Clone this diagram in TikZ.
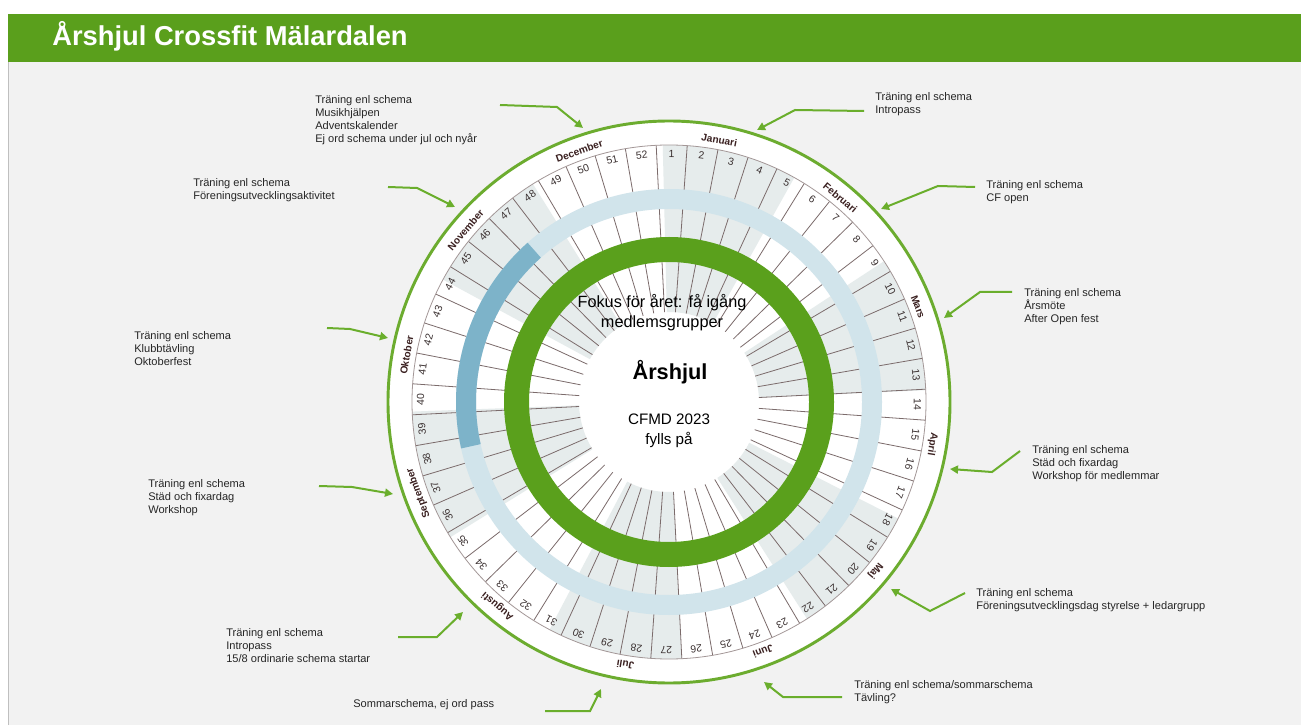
\documentclass[tikz,border=0pt]{standalone}
\usepackage{fontspec}
\setmainfont{Liberation Sans}
\usetikzlibrary{arrows.meta}

\definecolor{slidegray}{HTML}{F2F2F2}
\definecolor{hdrgreen}{HTML}{5A9F1C}
\definecolor{rimgreen}{HTML}{6CAC2F}
\definecolor{arrowgreen}{HTML}{6AAE2C}
\definecolor{ringgreen}{HTML}{5AA01C}
\definecolor{ringblue}{HTML}{D1E4EB}
\definecolor{darkblue}{HTML}{7DB3C9}
\definecolor{cellgray}{HTML}{E6ECEC}
\definecolor{spokecol}{HTML}{7B6B6B}
\definecolor{weektext}{HTML}{3A3030}
\definecolor{monthtext}{HTML}{3A2020}
\definecolor{notetext}{HTML}{262626}

\begin{document}
\begin{tikzpicture}[x=0.75pt,y=0.75pt,
  note/.style={anchor=north west,align=left,inner sep=0pt,font=\fontsize{8.3}{9.75}\selectfont,text=notetext},
  pointer/.style={draw=arrowgreen,line width=1.5pt,-{Triangle[length=6pt,width=6pt]}},
  weeknum/.style={font=\fontsize{7.8}{9}\selectfont,text=weektext,inner sep=0pt},
  monthname/.style={font=\bfseries\fontsize{7.6}{9}\selectfont,text=monthtext,inner sep=0pt},
  spoke/.style={draw=spokecol,line width=0.6pt}]

\useasboundingbox (0,0) rectangle (1301,725);
\fill[white] (0,0) rectangle (1301,725);
\fill[slidegray] (8,0) rectangle (1301,663);
\draw[black!25,line width=0.6pt] (8,0) -- (8,711);
\fill[hdrgreen] (8,663) rectangle (1301,711);
\node[anchor=base west,inner sep=0pt,text=white,font=\bfseries\fontsize{20.5}{24}\selectfont] (title) at (52,679) {Årshjul Crossfit Mälardalen};

% wheel
\begin{scope}[shift={(669,323)}]
  \fill[white] (0,0) circle[radius=281];
  \foreach \name/\s/\e [count=\i] in {Januari/0/31,Februari/31/59,Mars/59/90,April/90/120,Maj/120/151,Juni/151/181,Juli/181/212,Augusti/212/243,September/243/273,Oktober/273/304,November/304/334,December/334/365}{
    \pgfmathsetmacro\sa{91.4-\s*0.98630137}
    \pgfmathsetmacro\ea{91.4-\e*0.98630137}
    \ifodd\i\relax
      \fill[cellgray] (\sa:90) arc[start angle=\sa,end angle=\ea,radius=90] -- (\ea:257) arc[start angle=\ea,end angle=\sa,radius=257] -- cycle;
    \fi
    \pgfmathsetmacro\ma{(\sa+\ea)/2+3}
    \node[monthname,rotate=\ma-90] (m\i) at (\ma:266.5) {\name};
  }
  \foreach \k in {0,...,51}{
    \pgfmathsetmacro\b{92.86-\k*6.9230769}
    \draw[spoke] (\b:90) -- (\b:257);
  }
  \draw[spokecol!70,line width=0.6pt] (0,0) circle[radius=257];
  \fill[ringblue,even odd rule] (0,0) circle[radius=213] circle[radius=193];
  \fill[darkblue] (131.6:193) arc[start angle=131.6,end angle=192.6,radius=193] -- (192.6:213) arc[start angle=192.6,end angle=131.6,radius=213] -- cycle;
  \fill[ringgreen,even odd rule] (0,0) circle[radius=165] circle[radius=140];
  \draw[rimgreen,line width=2.2pt] (0,0) circle[radius=281];
  \foreach \k in {1,...,52}{
    \pgfmathsetmacro\a{89.4-(\k-1)*6.9230769}
    \node[weeknum,rotate=\a-90] (w\k) at (\a:248.5) {\k};
  }
\end{scope}

\node[font=\fontsize{12.2}{15}\selectfont,align=center,text=black] (focus) at (662,412) {Fokus för året: få igång\\medlemsgrupper};
\node[anchor=base,inner sep=0pt,font=\bfseries\fontsize{16.3}{19}\selectfont,text=black] (hub) at (670,345) {Årshjul};
\node[font=\fontsize{11.4}{15}\selectfont,align=center,text=black] (year) at (669,294) {CFMD 2023\\fylls på};

% notes
\node[note] (n1) at (315,630) {Träning enl schema\\Musikhjälpen\\Adventskalender\\Ej ord schema under jul och nyår};
\node[note] (n2) at (193,547) {Träning enl schema\\Föreningsutvecklingsaktivitet};
\node[note] (n3) at (875,633) {Träning enl schema\\Intropass};
\node[note] (n4) at (986,545) {Träning enl schema\\CF open};
\node[note] (n5) at (1024,437) {Träning enl schema\\Årsmöte\\After Open fest};
\node[note] (n6) at (1032,280) {Träning enl schema\\Städ och fixardag\\Workshop för medlemmar};
\node[note] (n7) at (976,137) {Träning enl schema\\Föreningsutvecklingsdag styrelse + ledargrupp};
\node[note] (n8) at (854,45) {Träning enl schema/sommarschema\\Tävling?};
\node[note] (n9) at (353,26) {Sommarschema, ej ord pass};
\node[note] (n10) at (226,97) {Träning enl schema\\Intropass\\15/8 ordinarie schema startar};
\node[note] (n11) at (148,246) {Träning enl schema\\Städ och fixardag\\Workshop};
\node[note] (n12) at (134,394) {Träning enl schema\\Klubbtävling\\Oktoberfest};

\foreach \i/\sx/\sy/\kx/\ky/\tx/\ty in {1/500/620/557/618/583/597, 2/388/538/417/537/455/518, 3/864/614/795/615/757/595, 4/975/538/938/539/881/516, 5/1012/433/980/433/944/407, 6/1020/274/992/253/950/256, 7/965/132/930/114/891/136, 8/842/28/783/28/764/43, 9/545/14/590/14/601/36, 10/398/88/437/88/463/113, 11/319/239/352/238/393/231, 12/327/397/350/396/388/387}{
  \coordinate (s\i) at (\sx,\sy);
  \coordinate (k\i) at (\kx,\ky);
  \coordinate (t\i) at (\tx,\ty);
  \draw[pointer] (s\i) -- (k\i) -- (t\i);
}
\end{tikzpicture}
\end{document}
